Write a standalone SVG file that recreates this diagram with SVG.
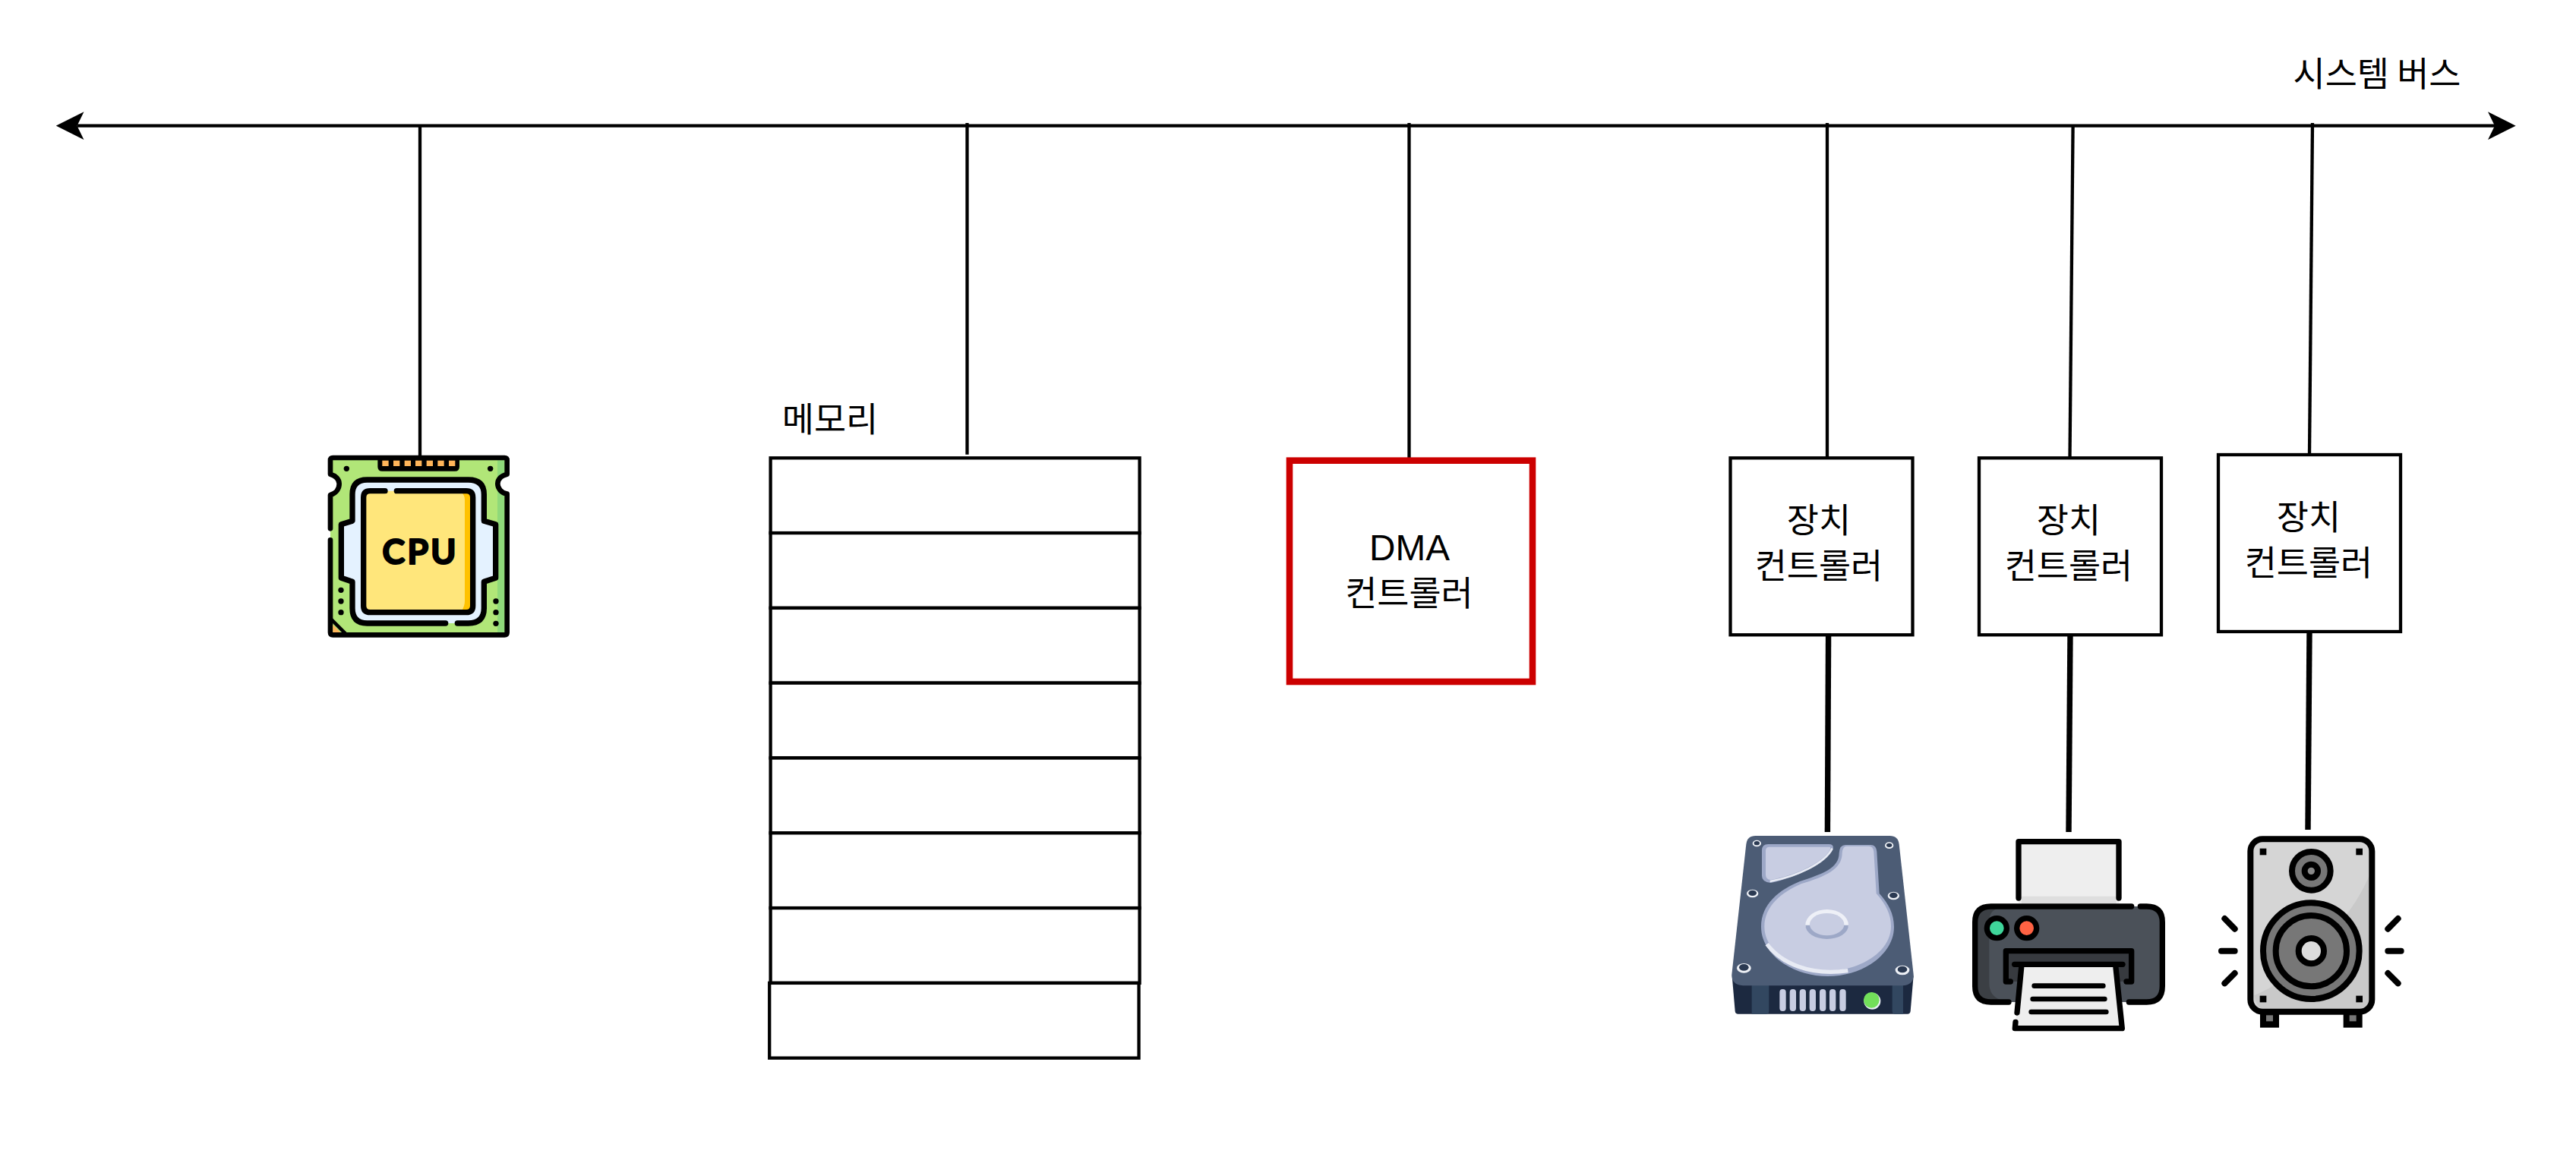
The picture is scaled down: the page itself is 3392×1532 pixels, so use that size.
<svg xmlns="http://www.w3.org/2000/svg" width="3392" height="1532" viewBox="0 0 3392 1532">
<defs>
<marker id="arrow" viewBox="0 0 37 37" refX="9" refY="18.4" markerWidth="37" markerHeight="37" markerUnits="userSpaceOnUse" orient="auto-start-reverse"><path d="M0,0 L36.7,18.4 L0,36.8 L9,18.4 Z" fill="#000"/></marker>
</defs>
<style>
.box{fill:#fff;stroke:#000;stroke-width:4.3}
.dma{fill:#fff;stroke:#cc0000;stroke-width:8.6}
.bus{fill:none;stroke:#000;stroke-width:4.3}
.link{fill:none;stroke:#000;stroke-width:4.3}
.thick{fill:none;stroke:#000;stroke-width:7.4}
.lbl{font-family:"Noto Sans CJK KR","Liberation Sans",sans-serif;font-size:45.8px;fill:#000;text-anchor:middle}
.lat{font-family:"Liberation Sans",Arial,sans-serif;font-size:47.7px;fill:#000;text-anchor:middle}
.ic{fill:none;stroke:#000;stroke-linecap:round;stroke-linejoin:round}
.cpus{stroke-width:22}
.pr{stroke-width:22}
.sp{stroke-width:24}
</style>
<rect width="3392" height="1532" fill="#fff"/>
<g id="connectors">
<line class="bus" x1="101.5" y1="165.7" x2="3285" y2="165.7" marker-start="url(#arrow)" marker-end="url(#arrow)"/>
<line class="link" x1="553" y1="166" x2="553" y2="601"/>
<line class="link" x1="1273.5" y1="162" x2="1273.5" y2="598.7"/>
<line class="link" x1="1855.5" y1="162" x2="1855.5" y2="603"/>
<line class="link" x1="2406" y1="162" x2="2406" y2="603"/>
<line class="link" x1="2729.6" y1="166" x2="2725.5" y2="603"/>
<line class="link" x1="3045" y1="162" x2="3041" y2="599"/>
<line class="thick" x1="2407.6" y1="836" x2="2406.4" y2="1096"/>
<line class="thick" x1="2726" y1="836" x2="2724" y2="1096"/>
<line class="thick" x1="3041" y1="833" x2="3039" y2="1093"/>
</g>
<g id="bus-label"><text class="lbl" x="3130" y="114">시스템 버스</text></g>
<g id="cpu">
<g transform="translate(400,578) scale(0.33333)">
<path d="M105,222 C130,215 140,195 140,178 C140,160 125,145 105,140 V85 Q105,75 115,75 H793 Q803,75 803,85 V140 C780,145 766,160 766,178 C766,195 780,215 803,218 V765 Q803,775 793,775 H115 Q105,775 105,765 Z" fill="#b1e678"/>
<path d="M765,85 H793 V140 C780,145 766,160 766,178 C766,195 780,215 793,218 V765 H765 Z" fill="#8fd97a"/>
<path d="M105,355 V222 C130,215 140,195 140,178 C140,160 125,145 105,140 V85 Q105,75 115,75 H793 Q803,75 803,85 V140 C780,145 766,160 766,178 C766,195 780,215 803,218 V765 Q803,775 793,775 H115 Q105,775 105,765 V400" class="ic" stroke-width="20"/>
<path d="M105,710 L170,775" class="ic" stroke-width="14"/>
<path d="M115,735 V765 H145 Z" fill="#ffb55a"/>
<path d="M292,75 H615 V110 Q615,128 597,128 H310 Q292,128 292,110 Z" fill="#000"/>
<g fill="#ffb55a"><rect x="310" y="86" width="25" height="22"/><rect x="354" y="86" width="25" height="22"/><rect x="398" y="86" width="25" height="22"/><rect x="441" y="86" width="25" height="22"/><rect x="485" y="86" width="25" height="22"/><rect x="529" y="86" width="25" height="22"/><rect x="573" y="86" width="25" height="22"/></g>
<g fill="#000"><circle cx="169" cy="118" r="11"/><circle cx="737" cy="118" r="11"/><circle cx="147" cy="598" r="11"/><circle cx="147" cy="642" r="11"/><circle cx="147" cy="686" r="11"/><circle cx="759" cy="642" r="11"/><circle cx="759" cy="686" r="11"/><circle cx="759" cy="730" r="11"/></g>
<path d="M250,729 Q192,729 192,670 V565 L148,550 V338 L192,325 V220 Q192,162 250,162 H650 Q712,162 712,220 V325 L758,338 V550 L712,565 V670 Q712,729 650,729 Z" fill="#e4f2ff"/>
<path d="M560,729 H250 Q192,729 192,670 V565 L148,550 V338 L192,325 V220 Q192,162 250,162 H650 Q712,162 712,220 V325 L758,338 V550 L712,565 V670 Q712,729 650,729 H607" class="ic cpus"/>
<path d="M262,206 H642 Q668,206 668,232 V660 Q668,686 642,686 H262 Q236,686 236,660 V232 Q236,206 262,206 Z" fill="#ffe67b"/>
<path d="M625,214 H642 Q660,214 660,232 V660 Q660,678 642,678 H625 Q636,660 636,640 V240 Q636,225 625,214 Z" fill="#ffc200"/>
<path d="M321,206 H262 Q236,206 236,232 V660 Q236,686 262,686 H642 Q668,686 668,660 V232 Q668,206 642,206 H367" class="ic cpus"/>
<text x="310" y="496" textLength="292" lengthAdjust="spacing" font-family="Lato,'Liberation Sans',sans-serif" font-weight="700" font-size="136" stroke="#000" stroke-width="6" stroke-linejoin="round" fill="#000">CPU</text>
</g>
</g>
<g id="memory">
<text class="lbl" x="1093" y="569">메모리</text>
<rect class="box" x="1014.6" y="603.3" width="486" height="98.8"/>
<rect class="box" x="1014.6" y="702.1" width="486" height="98.8"/>
<rect class="box" x="1014.6" y="800.9" width="486" height="98.8"/>
<rect class="box" x="1014.6" y="899.7" width="486" height="98.8"/>
<rect class="box" x="1014.6" y="998.5" width="486" height="98.8"/>
<rect class="box" x="1014.6" y="1097.3" width="486" height="98.8"/>
<rect class="box" x="1014.6" y="1196.1" width="486" height="98.8"/>
<rect class="box" x="1013.2" y="1294.9" width="486.4" height="98.8"/>
</g>
<g id="dma-controller">
<rect class="dma" x="1698" y="606.7" width="320" height="291.3"/>
<text class="lat" x="1856" y="738">DMA</text>
<text class="lbl" x="1855.5" y="798">컨트롤러</text>
</g>
<g id="device-controller-1">
<rect class="box" x="2278.5" y="603.3" width="240" height="233"/>
<text class="lbl" x="2395" y="702">장치</text>
<text class="lbl" x="2395" y="762">컨트롤러</text>
</g>
<g id="device-controller-2">
<rect class="box" x="2606" y="603.3" width="240" height="233"/>
<text class="lbl" x="2724" y="702">장치</text>
<text class="lbl" x="2724" y="762">컨트롤러</text>
</g>
<g id="device-controller-3">
<rect class="box" x="2921" y="599" width="240" height="233"/>
<text class="lbl" x="3040" y="698">장치</text>
<text class="lbl" x="3040" y="758">컨트롤러</text>
</g>
<g id="hard-disk">
<g transform="translate(2260,1077) scale(0.33333)">
<path d="M62,625 L74,765 Q75,776 86,776 H755 Q766,776 767,765 L779,625 Z" fill="#1c2940"/>
<path d="M140,650 H208 V765 Q208,776 197,776 H140 Z" fill="#324760"/>
<path d="M695,650 H738 V776 H706 Q695,776 695,765 Z" fill="#324760"/>
<path d="M118,105 Q122,72 155,72 H685 Q718,72 722,105 L779,620 Q780,662 735,664 H105 Q60,662 61,620 Z" fill="#4c5c75"/>
<g fill="#c8cde2"><rect x="250" y="678" width="25" height="87" rx="12"/><rect x="290" y="678" width="25" height="87" rx="12"/><rect x="329" y="678" width="25" height="87" rx="12"/><rect x="368" y="678" width="25" height="87" rx="12"/><rect x="408" y="678" width="25" height="87" rx="12"/><rect x="447" y="678" width="25" height="87" rx="12"/><rect x="487" y="678" width="25" height="87" rx="12"/></g>
<circle cx="616" cy="725" r="33" fill="#eaf0f5"/><circle cx="613" cy="721" r="31" fill="#72e05a"/>
<g fill="#eef1f6"><ellipse cx="160" cy="102" rx="17" ry="13"/><ellipse cx="683" cy="110" rx="17" ry="13"/><ellipse cx="143" cy="300" rx="23" ry="16"/><ellipse cx="700" cy="309" rx="23" ry="16"/><ellipse cx="109" cy="595" rx="28" ry="19"/><ellipse cx="735" cy="603" rx="28" ry="19"/></g>
<g fill="#2b3a52"><ellipse cx="160" cy="101" rx="11" ry="8"/><ellipse cx="683" cy="109" rx="11" ry="8"/><ellipse cx="143" cy="298" rx="16" ry="11"/><ellipse cx="700" cy="307" rx="16" ry="11"/><ellipse cx="109" cy="592" rx="19" ry="13"/><ellipse cx="735" cy="600" rx="19" ry="13"/></g>
<path d="M510,108 H610 Q632,108 634,135 L644,300 C680,340 702,380 702,432 C702,540 580,627 440,627 C300,627 177,540 177,432 C177,340 250,285 330,252 C420,222 485,200 485,140 Q487,108 510,108 Z" fill="#9da8c7"/>
<path d="M515,113 H602 Q620,113 622,135 L632,300 C672,345 690,385 690,430 C690,530 570,605 440,605 C310,605 190,530 190,432 C190,350 258,295 335,262 C430,232 497,205 497,140 Q499,113 515,113 Z" fill="#c8cde2"/>
<path d="M200,500 C255,575 370,627 520,605" fill="none" stroke="#e8ebf4" stroke-width="16"/>
<path d="M352,425 A85,62 0 0 1 522,425 V432 H352 Z" fill="#eef0f7"/>
<path d="M352,425 A85,55 0 0 0 522,425 Z" fill="#9da8c7"/>
<ellipse cx="437" cy="422" rx="68" ry="44" fill="#c8cde2"/>
<path d="M205,105 H445 Q462,105 462,120 C440,180 320,235 215,258 Q180,255 180,230 V130 Q180,105 205,105 Z" fill="#9da8c7"/>
<path d="M210,116 H448 Q452,116 450,125 C425,175 320,225 215,246 Q195,245 195,225 V130 Q195,116 210,116 Z" fill="#c8cde2"/>
<path d="M458,122 C430,180 320,232 212,252" fill="none" stroke="#e8ebf4" stroke-width="8"/>
</g>
</g>
<g id="printer">
<g transform="translate(2580,1078) scale(0.33333)">
<rect x="234" y="92" width="396" height="243" fill="#eeeeee"/>
<rect x="245" y="308" width="375" height="28" fill="#dedede"/>
<path d="M234,315 V92 H630 V315" class="ic pr"/>
<rect x="62" y="348" width="740" height="378" rx="62" fill="#4b5159"/>
<path d="M125,358 H150 Q118,365 118,410 V650 Q118,700 160,716 H125 Q72,716 72,663 V410 Q72,358 125,358 Z" fill="#3b3f44"/>
<path d="M195,726 H125 Q62,726 62,663 V410 Q62,348 125,348 H680 M715,348 H740 Q802,348 802,410 V663 Q802,726 740,726 H670" class="ic pr"/>
<circle cx="148" cy="434" r="39" fill="#3fd69b" stroke="#000" stroke-width="22"/>
<circle cx="266" cy="434" r="39" fill="#ff6243" stroke="#000" stroke-width="22"/>
<path d="M184,524 H680 V645 H184 Z" fill="#373a3f"/>
<path d="M202,645 H184 V524 H680 V645 H660" class="ic pr"/>
<path d="M248,577 H616 L643,830 H220 Z" fill="#eeeeee"/>
<path d="M218,577 H645" class="ic pr"/>
<path d="M245,590 L228,768 M222,805 L220,830 H643 L618,590" class="ic pr"/>
<path d="M296,662 H568 M290,714 H574 M284,765 H580" class="ic" stroke-width="20"/>
</g>
</g>
<g id="speaker">
<g transform="translate(2900,1078) scale(0.33333)">
<rect x="228" y="765" width="75" height="62" fill="#000"/><rect x="252" y="778" width="27" height="24" fill="#777"/>
<rect x="557" y="765" width="75" height="62" fill="#000"/><rect x="581" y="778" width="27" height="24" fill="#777"/>
<rect x="190" y="82" width="480" height="682" rx="48" fill="#d5d5d5"/>
<path d="M660,225 C620,320 560,400 470,500 C390,590 300,660 205,700 Q215,752 240,752 H620 Q658,752 658,720 Z" fill="#c9c9c9"/>
<rect x="190" y="82" width="480" height="682" rx="48" class="ic sp"/>
<g fill="#000"><rect x="227" y="119" width="26" height="26"/><rect x="607" y="119" width="26" height="26"/><rect x="227" y="701" width="26" height="26"/><rect x="607" y="701" width="26" height="26"/></g>
<circle cx="430" cy="208" r="76" fill="#777" stroke="#000" stroke-width="24"/>
<circle cx="430" cy="208" r="26" fill="#888" stroke="#000" stroke-width="24"/>
<circle cx="430" cy="524" r="190" fill="#777" stroke="#000" stroke-width="24"/>
<circle cx="430" cy="524" r="140" fill="#777" stroke="#000" stroke-width="24"/>
<circle cx="430" cy="524" r="50" fill="#ddd" stroke="#000" stroke-width="24"/>
<path d="M88,396 L128,437 M75,524 H128 M88,652 L128,612 M773,396 L733,437 M785,524 H733 M773,652 L733,612" class="ic sp"/>
</g>
</g>
</svg>
